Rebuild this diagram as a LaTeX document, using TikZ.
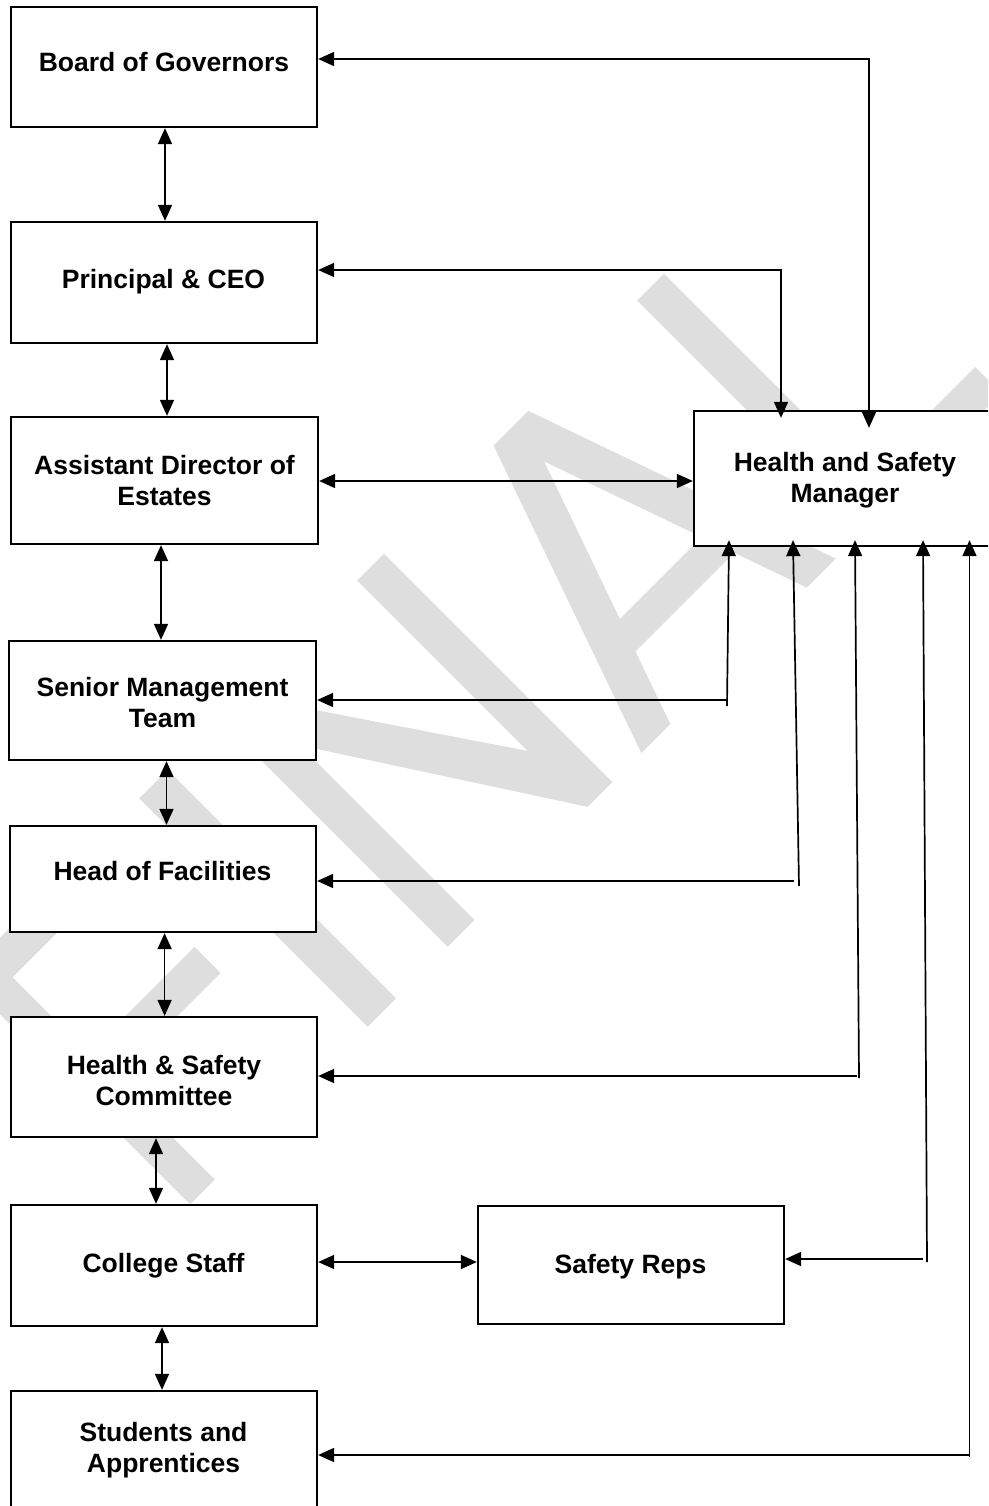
\documentclass[tikz,border=0pt]{standalone}
\usepackage{fontspec}
\setmainfont{Liberation Sans}
\usetikzlibrary{arrows.meta}
\definecolor{wm}{RGB}{222,222,222}
\begin{document}
\begin{tikzpicture}[x=1pt,y=-1pt,
  >={Triangle[length=16pt 0 1,width=14pt 0 1]},
  boxn/.style={draw=black, line width=2.3pt, fill=white, inner sep=0pt, rectangle},
  lbl/.style={font=\bfseries\fontsize{26.5}{31}\selectfont, align=center, inner sep=0pt, anchor=base},
  con/.style={line width=1.7pt},
  twoarr/.style={con,<->},
  onearr/.style={con,->}]
\useasboundingbox (0,0) rectangle (988,1506);
\fill[white] (0,0) rectangle (988,1506);
\clip (0,0) rectangle (988,1506);

% watermark FINAL
\begin{scope}[shift={(697.2,697.2)}, rotate=45]
  \fill[wm] (-717,0) -- (-717,-323) -- (-510,-323) -- (-510,-286) -- (-682,-286) -- (-682,-179) -- (-532,-179) -- (-532,-142) -- (-682,-142) -- (-682,0) -- cycle;
  \fill[wm] (-466,0) rectangle (-426,-323);
  \fill[wm] (-353,0) -- (-353,-323) -- (-321,-323) -- (-158,-82) -- (-158,-323) -- (-120,-323) -- (-120,0) -- (-155,0) -- (-315,-247) -- (-315,0) -- cycle;
  \fill[wm, even odd rule] (-79,0) -- (34,-322) -- (83,-322) -- (196,0) -- (155,0) -- (128.3,-76) -- (-11.3,-76) -- (-38,0) -- cycle
     (0.6,-110) -- (58.5,-275) -- (116.4,-110) -- cycle;
  \fill[wm] (238,0) -- (238,-323) -- (276,-323) -- (276,-37) -- (430,-37) -- (430,0) -- cycle;
\end{scope}

% boxes
\node[boxn, minimum width=306pt, minimum height=120pt] (bog)  at (164,67) {};
\node[boxn, minimum width=306pt, minimum height=121pt] (pceo) at (164,282.5) {};
\node[boxn, minimum width=307pt, minimum height=127pt] (ade)  at (164.5,480.5) {};
\node[boxn, minimum width=307pt, minimum height=119pt] (smt)  at (162.5,700.5) {};
\node[boxn, minimum width=306pt, minimum height=106pt] (hof)  at (163,879) {};
\node[boxn, minimum width=306pt, minimum height=120pt] (hsc)  at (164,1077) {};
\node[boxn, minimum width=306pt, minimum height=121pt] (cs)   at (164,1265.5) {};
\node[boxn, minimum width=306pt, minimum height=129pt] (sa)   at (164,1455.5) {};
\node[boxn, minimum width=306pt, minimum height=118pt] (sr)   at (631,1265) {};
\node[boxn, minimum width=302pt, minimum height=135pt] (hsm)  at (845,478.5) {};

% labels (anchor=base is the baseline of the last line)
\node[lbl] (bogt)  at (164,71.5)   {Board of Governors};
\node[lbl] (pceot) at (163.5,288)  {Principal \& CEO};
\node[lbl] (adet)  at (164.5,505.5) {Assistant Director of\\Estates};
\node[lbl] (smtt)  at (162.5,727)  {Senior Management\\Team};
\node[lbl] (hoft)  at (162.5,880)  {Head of Facilities};
\node[lbl] (hsct)  at (164,1105.4) {Health \& Safety\\Committee};
\node[lbl] (cst)   at (163.5,1272) {College Staff};
\node[lbl] (srt)   at (630.5,1273) {Safety Reps};
\node[lbl] (sat)   at (163.5,1472.7) {Students and\\Apprentices};
\node[lbl] (hsmt)  at (845,502)    {Health and Safety\\Manager};

% vertical chain
\draw[twoarr] ([xshift=1pt]bog.south) -- ([xshift=1pt]pceo.north);
\draw[twoarr] ([xshift=3pt]pceo.south) -- ([xshift=2.5pt]ade.north);
\draw[twoarr] ([xshift=-3.5pt]ade.south) -- ([xshift=-1.5pt]smt.north);
\draw[twoarr] ([xshift=4pt]smt.south) -- ([xshift=3.5pt]hof.north);
\draw[twoarr] ([xshift=1.6pt]hof.south) -- ([xshift=0.6pt]hsc.north);
\draw[twoarr] ([xshift=-8pt]hsc.south) -- ([xshift=-8pt]cs.north);
\draw[twoarr] ([xshift=-2pt]cs.south) -- ([xshift=-2pt]sa.north);
\draw[twoarr] ([yshift=3.5pt]cs.east) -- ([yshift=3pt]sr.west);
\draw[twoarr] ([yshift=-0.5pt]ade.east) -- ([yshift=-2.5pt]hsm.west);

% manager to top boxes
\draw[twoarr] ([xshift=24pt,yshift=-18pt]hsm.north) |- ([yshift=8pt]bog.east);
\draw[twoarr] ([xshift=-64pt,yshift=-8pt]hsm.north) |- ([yshift=12.5pt]pceo.east);

% lines from below into manager
\coordinate (a1) at (727,706);  \coordinate (a2) at (727.5,700);
\coordinate (b1) at (799,886);  \coordinate (b2) at (794,881);
\coordinate (c1) at (859,1078); \coordinate (c2) at (857,1076);
\coordinate (d1) at (927,1262); \coordinate (d2) at (923,1259);
\coordinate (e1) at (969.5,1457); \coordinate (e2) at (969.5,1455);

\draw[onearr] (a1) -- ([xshift=-116pt,yshift=7pt]hsm.south);
\draw[onearr] (a2) -- (smt.east |- a2);
\draw[onearr] (b1) -- ([xshift=-52pt,yshift=7pt]hsm.south);
\draw[onearr] (b2) -- (hof.east |- b2);
\draw[onearr] (c1) -- ([xshift=10pt,yshift=7pt]hsm.south);
\draw[onearr] (c2) -- (hsc.east |- c2);
\draw[onearr] (d1) -- ([xshift=78pt,yshift=7pt]hsm.south);
\draw[onearr] (d2) -- (sr.east |- d2);
\draw[onearr] (e1) -- ([xshift=124.5pt,yshift=7pt]hsm.south);
\draw[onearr] (e2) -- (sa.east |- e2);
\end{tikzpicture}
\end{document}
